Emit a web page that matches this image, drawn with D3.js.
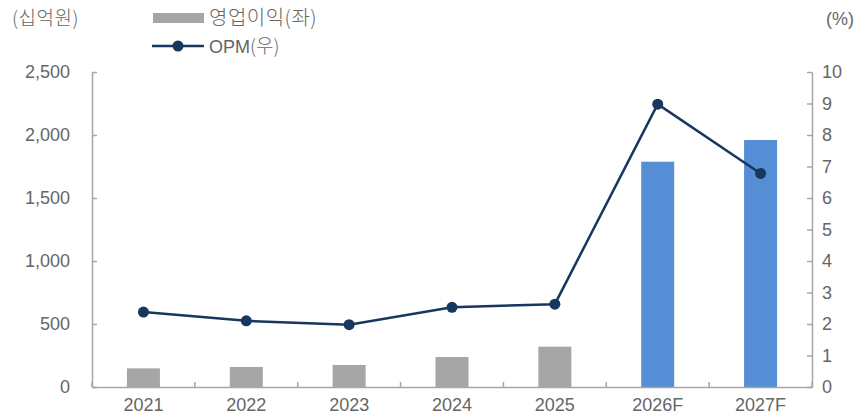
<!DOCTYPE html>
<html><head><meta charset="utf-8">
<script src="https://cdn.jsdelivr.net/npm/d3@7"></script>
<style>body{margin:0;background:#fff}text{font-family:"Liberation Sans","Noto Sans CJK KR",sans-serif}.kr{font-family:"Noto Sans CJK KR",sans-serif;font-weight:300}</style>
</head><body><svg id="c" width="866" height="420"></svg>
<script>
const categories = ["2021","2022","2023","2024","2025","2026F","2027F"];
const profit = [148, 159, 175, 238, 320, 1788, 1960];
const opm = [2.38, 2.10, 1.98, 2.53, 2.63, 8.98, 6.78];
const forecast = [false,false,false,false,false,true,true];
const leftTicks = [0,500,1000,1500,2000,2500];
const rightTicks = [0,1,2,3,4,5,6,7,8,9,10];

const svg = d3.select("#c");
const L = 92, R = 812, T = 72, B = 387;
const x = d3.scaleBand().domain(categories).range([L,R]).paddingInner(0).paddingOuter(0);
const yL = d3.scaleLinear().domain([0,2500]).range([B,T]);
const yR = d3.scaleLinear().domain([0,10]).range([B,T]);
const axisCol = "#a6a6a6", textCol = "#666666";
const fs = "18px";

// bars
const bw = 33;
svg.selectAll("rect.bar").data(categories).enter().append("rect")
  .attr("x", (d)=>x(d)+x.bandwidth()/2-bw/2)
  .attr("y", (d,i)=>yL(profit[i]))
  .attr("width", bw)
  .attr("height", (d,i)=>B-yL(profit[i]))
  .attr("fill", (d,i)=>forecast[i]?"#558ed5":"#a6a6a6");

// axes
const gL = svg.append("g").attr("transform",`translate(${L},0)`)
  .call(d3.axisLeft(yL).tickValues(leftTicks).tickFormat(d3.format(",")).tickSizeInner(-5).tickSizeOuter(0).tickPadding(22));
const gR = svg.append("g").attr("transform",`translate(${R},0)`)
  .call(d3.axisRight(yR).tickValues(rightTicks).tickSizeInner(-5).tickSizeOuter(0).tickPadding(10));
const gB = svg.append("g").attr("transform",`translate(0,${B})`)
  .call(d3.axisBottom(x).tickSize(0).tickPadding(11));
// category boundary ticks
svg.selectAll("line.ct").data(d3.range(categories.length+1)).enter().append("line")
  .attr("x1",(i)=>L+i*x.step()).attr("x2",(i)=>L+i*x.step())
  .attr("y1",B).attr("y2",B-5).attr("stroke",axisCol).attr("stroke-width",1.5);
[gL,gR,gB].forEach(g=>{
  g.selectAll("path").attr("stroke",axisCol).attr("stroke-width",1.5);
  g.selectAll("line").attr("stroke",axisCol).attr("stroke-width",1.5);
  g.selectAll("text").attr("fill",textCol).style("font-size",fs).style("font-family","'Liberation Sans',sans-serif");
});

// line
const line = d3.line().x((d,i)=>x(categories[i])+x.bandwidth()/2).y(d=>yR(d));
svg.append("path").datum(opm).attr("d",line).attr("fill","none").attr("stroke","#17375e").attr("stroke-width",2.5);
svg.selectAll("circle.p").data(opm).enter().append("circle")
  .attr("cx",(d,i)=>x(categories[i])+x.bandwidth()/2).attr("cy",d=>yR(d)).attr("r",5.5).attr("fill","#17375e");

// unit labels
svg.append("text").attr("class","kr").attr("x",12).attr("y",25).attr("fill",textCol).style("font-size","19px").style("letter-spacing","0.5px").text("(십억원)");
svg.append("text").attr("x",826).attr("y",25).attr("fill",textCol).style("font-size",fs).text("(%)");

// legend
svg.append("rect").attr("x",153).attr("y",13).attr("width",51).attr("height",10).attr("fill","#a6a6a6");
svg.append("text").attr("class","kr").attr("x",209).attr("y",25).attr("fill",textCol).style("font-size","20px").style("letter-spacing","0.5px").text("영업이익(좌)");
svg.append("line").attr("x1",152).attr("x2",204).attr("y1",46).attr("y2",46).attr("stroke","#17375e").attr("stroke-width",2.5);
svg.append("circle").attr("cx",178).attr("cy",46).attr("r",5.5).attr("fill","#17375e");
svg.append("text").attr("x",209).attr("y",53).attr("fill",textCol).style("font-size",fs).text("OPM");
svg.append("text").attr("class","kr").attr("x",250).attr("y",53).attr("fill",textCol).style("font-size","19px").text("(우)");
</script></body></html>
